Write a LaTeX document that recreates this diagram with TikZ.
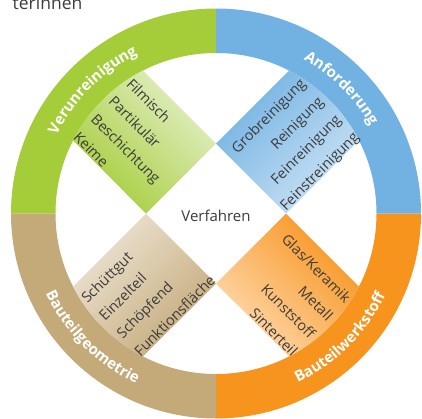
\documentclass[tikz,border=0pt]{standalone}
\usepackage{fontspec}
\setmainfont{Open Sans}
\usetikzlibrary{decorations.text}
\definecolor{gruen}{RGB}{165,205,57}
\definecolor{gruenhell}{RGB}{228,239,200}
\definecolor{blau}{RGB}{114,178,226}
\definecolor{blauhell}{RGB}{205,227,245}
\definecolor{orangeton}{RGB}{247,148,30}
\definecolor{orangehell}{RGB}{255,218,175}
\definecolor{sand}{RGB}{196,169,121}
\definecolor{sandhell}{RGB}{237,228,212}
\definecolor{textgrau}{RGB}{60,60,60}
\newcommand{\ringfont}{\fontsize{15}{18}\selectfont\bfseries}
\tikzset{
	sqtext/.style={font=\fontsize{14.5}{25}\selectfont,text=textgrau,inner sep=0pt},
	ringtext/.style={decorate,decoration={text along path,text align=center,text color=white,text={|\ringfont|#1}}}
}
\begin{document}
\begin{tikzpicture}[line cap=round,line join=round,x=1pt,y=1pt]
		\useasboundingbox(-216,-204.5) rectangle (206,213.5);
		\clip(-216,-204.5) rectangle (206,213.5);
		%Vẽ vòng ngoài
		\foreach \a/\c in {90/gruen,0/blau,-90/orangeton,180/sand}
		\fill[\c] (\a:205) arc[start angle=\a,end angle=\a+90,radius=205] -- (\a+90:160.5) arc[start angle=\a+90,end angle=\a,radius=160.5] -- cycle;
		%Vẽ ô vuông
		\foreach \a/\w/\c/\d in {90/-45/gruen/gruenhell,0/-135/blau/blauhell,-90/135/orangeton/orangehell,180/45/sand/sandhell}
		\shade[bottom color=\c,top color=\d,shading angle=\w] (\a+90:70)--(\a:70)--(\a+27.04:160.5) arc[start angle=\a+27.04,end angle=\a+62.96,radius=160.5]--cycle;
		%Chữ trên vòng
		\path[ringtext=Verunreinigung] (180:177.4) arc[start angle=180,end angle=90,radius=177.4];
		\path[ringtext=Anforderung] (90:177.4) arc[start angle=90,end angle=0,radius=177.4];
		\path[ringtext=Bauteilwerkstoff] (-90:188) arc[start angle=-90,end angle=0,radius=188];
		\path[ringtext=Bauteilgeometrie] (-180:188) arc[start angle=-180,end angle=-90,radius=188];
		%Chữ trong ô
		\node[sqtext,rotate=-45,anchor=north west,align=left] (verun) at (121.2:159.6) {Filmisch\\Partikulär\\Beschichtung\\Keime};
		\node[sqtext,rotate=45,anchor=north east,align=right] (anford) at (58.8:159.6) {Grobreinigung\\Reinigung\\Feinreinigung\\Feinstreinigung};
		\node[sqtext,rotate=-45,anchor=north east,align=right] (werkst) at (-31.2:159.6) {Glas/Keramik\\Metall\\Kunststoff\\Sinterteil};
		\node[sqtext,rotate=45,anchor=north west,align=left] (geom) at (-148.8:159.6) {Schüttgut\\Einzelteil\\Schöpfend\\Funktionsfläche};
		\node[font=\fontsize{15}{18}\selectfont,text=textgrau] (verf) at (0,-2) {Verfahren};
		\node[anchor=base west,inner sep=0pt,font=\fontsize{17.5}{20}\selectfont,text=textgrau] (titel) at (-203.5,204) {terinnen};
	\end{tikzpicture}
\end{document}
